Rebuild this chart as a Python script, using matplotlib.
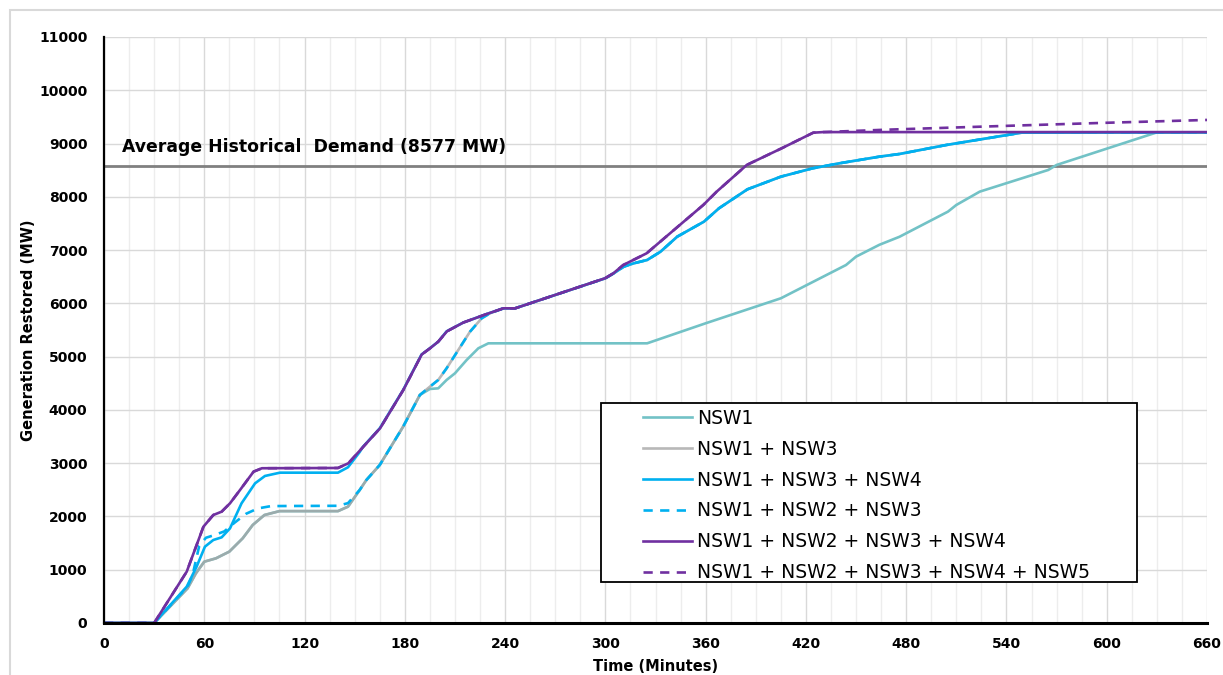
import matplotlib
matplotlib.use("Agg")
import matplotlib.pyplot as plt
from matplotlib.patches import Rectangle
from matplotlib.ticker import MultipleLocator

# ---------------- data ----------------
t_nsw1 = [0, 30, 50, 55, 60, 67, 75, 83, 89, 96, 105, 140, 146, 153, 157, 165,
          179, 189, 195, 200, 205, 210, 217, 224, 230, 325, 360, 405, 444, 450,
          464, 476, 505, 510, 524, 565, 570, 630, 660]
mw_nsw1 = [0, 0, 650, 933, 1151, 1214, 1340, 1590, 1840, 2027, 2100, 2100, 2184,
           2497, 2684, 2966, 3686, 4280, 4393, 4405, 4562, 4687, 4937, 5157, 5250,
           5250, 5626, 6095, 6720, 6877, 7100, 7250, 7722, 7847, 8097, 8504, 8598,
           9210, 9210]

t_nsw13 = [0, 30, 50, 55, 60, 67, 75, 83, 89, 96, 105, 140, 146, 153, 157, 165,
           179, 189, 195, 200, 205, 212, 219, 226, 231, 239, 246, 300, 305, 311,
           317, 325, 333, 343, 359, 368, 385, 405, 424, 440, 464, 476, 504, 549, 660]
mw_nsw13 = [0, 0, 650, 933, 1151, 1214, 1340, 1590, 1840, 2027, 2100, 2100, 2184,
            2497, 2684, 2966, 3686, 4280, 4436, 4562, 4781, 5125, 5468, 5720, 5814,
            5907, 5907, 6471, 6564, 6689, 6752, 6814, 6970, 7252, 7534, 7785, 8141,
            8378, 8535, 8629, 8754, 8804, 8973, 9204, 9210]

t_nsw134 = [0, 30, 49.5, 55.4, 60.4, 65.4, 70.4, 75.4, 82.3, 90.4, 96.3, 105.3,
            140, 146, 153, 155, 165, 179, 190, 195, 200, 205, 215, 229, 239, 246,
            300, 305, 311, 317, 325, 333, 343, 359, 368, 385, 405, 424, 440, 464,
            476, 504, 549, 660]
mw_nsw134 = [0, 0, 682, 1057, 1433, 1558, 1608, 1777, 2247, 2622, 2760, 2822,
             2822, 2923, 3210, 3310, 3655, 4374, 5040, 5157, 5281, 5475, 5640, 5800,
             5907, 5907, 6471, 6564, 6689, 6752, 6814, 6970, 7252, 7534, 7785, 8141,
             8378, 8535, 8629, 8754, 8804, 8973, 9204, 9210]

t_nsw123 = [0, 30, 50, 53, 57, 61, 66, 72, 78, 85, 92, 100, 140, 146, 153, 157,
            165, 179, 189, 195, 200, 205, 212, 219, 226, 231, 239, 246, 300, 305,
            311, 317, 325, 333, 343, 359, 368, 385, 405, 424, 440, 464, 476, 504,
            549, 660]
mw_nsw123 = [0, 0, 682, 900, 1450, 1600, 1650, 1720, 1880, 2050, 2150, 2195, 2200,
             2250, 2497, 2684, 2966, 3686, 4280, 4436, 4562, 4781, 5125, 5468, 5720,
             5814, 5907, 5907, 6471, 6564, 6689, 6752, 6814, 6970, 7252, 7534, 7785,
             8141, 8378, 8535, 8629, 8754, 8804, 8973, 9204, 9210]

t_nsw1234 = [0, 30, 49.5, 59.5, 65.4, 70.4, 75.4, 81.4, 89.5, 94.5, 140, 146.2,
             155.2, 165.2, 179.1, 190.1, 195.1, 200, 205.2, 215, 229, 239, 246,
             299.8, 304.8, 310.7, 324.7, 338.7, 358.6, 366.6, 384.6, 405.5, 424.4,
             430.4, 660]
mw_nsw1234 = [0, 0, 964, 1808, 2027, 2090, 2247, 2497, 2841, 2905, 2910, 2998,
              3310, 3655, 4374, 5040, 5157, 5281, 5475, 5640, 5800, 5907, 5907,
              6471, 6564, 6720, 6940, 7315, 7847, 8097, 8598, 8911, 9204, 9215, 9215]

t_nsw12345 = t_nsw1234[:-1] + [464, 476, 544, 600, 660]
mw_nsw12345 = mw_nsw1234[:-1] + [9255, 9268, 9336, 9390, 9443]

demand_mw = 8577
demand_label = "Average Historical  Demand (8577 MW)"

series_labels = ["NSW1", "NSW1 + NSW3", "NSW1 + NSW3 + NSW4", "NSW1 + NSW2 + NSW3",
                 "NSW1 + NSW2 + NSW3 + NSW4", "NSW1 + NSW2 + NSW3 + NSW4 + NSW5"]
x_ticks = list(range(0, 661, 60))
y_ticks = list(range(0, 11001, 1000))

# ---------------- drawing ----------------
plt.rcParams['font.family'] = ['DejaVu Sans']
W, H = 1223, 675
fig = plt.figure(figsize=(W / 100, H / 100), dpi=100)
fig.patch.set_facecolor('white')

# outer light border
fig.patches.append(Rectangle((10 / W, -0.2), 1.2, 1.2 - 10 / H, transform=fig.transFigure,
                             fill=False, edgecolor='#D9D9D9', linewidth=1.5, zorder=0))

ax = fig.add_axes([104 / W, 1 - 623 / H, 1103 / W, 586 / H])
ax.set_xlim(0, 660)
ax.set_ylim(0, 11000)

ax.xaxis.set_major_locator(MultipleLocator(60))
ax.xaxis.set_minor_locator(MultipleLocator(15))
ax.yaxis.set_major_locator(MultipleLocator(1000))
ax.grid(which='major', axis='both', color='#D9D9D9', linewidth=1.0, zorder=0)
ax.grid(which='minor', axis='x', color='#EDEDED', linewidth=1.0, zorder=0)
ax.set_axisbelow(True)

ax.set_xticks(x_ticks)
ax.set_yticks(y_ticks)
ax.set_xticklabels([str(v) for v in x_ticks], fontweight='bold', fontsize=10)
ax.set_yticklabels([str(v) for v in y_ticks], fontweight='bold', fontsize=10)
ax.tick_params(axis='both', which='both', length=0)
ax.tick_params(axis='y', pad=12)
ax.tick_params(axis='x', pad=10)

for s in ['top', 'right']:
    ax.spines[s].set_visible(False)
ax.spines['left'].set_color('black')
ax.spines['left'].set_linewidth(1.6)
ax.spines['bottom'].set_color('black')
ax.spines['bottom'].set_linewidth(2.2)
ax.spines['left'].set_zorder(5)
ax.spines['bottom'].set_zorder(5)

ax.axhline(demand_mw, color='#808080', linewidth=2.0, zorder=1)
ax.text(10.8, 8935, demand_label, fontsize=12.4, fontweight='bold', va='center', ha='left')

lw = 1.9
teal, grey, blue, purple = '#72C2C6', '#A6A6A6', '#00B0F0', '#7030A0'
dash = (3.5, 2.8)
h1, = ax.plot(t_nsw1, mw_nsw1, color=teal, lw=lw, zorder=2, label=series_labels[0])
h2, = ax.plot(t_nsw13, mw_nsw13, color=grey, lw=lw, zorder=2.1, alpha=0.8, label=series_labels[1])
h3, = ax.plot(t_nsw134, mw_nsw134, color=blue, lw=lw, zorder=2.2, label=series_labels[2])
h4, = ax.plot(t_nsw123, mw_nsw123, color=blue, lw=lw, ls=(0, dash), zorder=2.3, label=series_labels[3])
h6, = ax.plot(t_nsw12345, mw_nsw12345, color=purple, lw=lw, ls=(0, dash), zorder=2.4, label=series_labels[5])
h5, = ax.plot(t_nsw1234, mw_nsw1234, color=purple, lw=lw, zorder=2.5, label=series_labels[4])

ax.set_xlabel("Time (Minutes)", fontsize=10.5, fontweight='bold', labelpad=6)
ax.set_ylabel("Generation Restored (MW)", fontsize=10.5, fontweight='bold', labelpad=2)

# legend box
bx0, bx1, by0, by1 = 601, 1137, 403, 582
ax.add_patch(Rectangle(((bx0 - 104) / 1103, (623 - by1) / 586), (bx1 - bx0) / 1103,
                       (by1 - by0) / 586, transform=ax.transAxes, facecolor='white',
                       edgecolor='black', linewidth=1.3, zorder=6, clip_on=False))
leg = ax.legend(handles=[h1, h2, h3, h4, h5, h6], loc='upper left',
                bbox_to_anchor=(643 / W, 1 - 409 / H), bbox_transform=fig.transFigure,
                frameon=False, fontsize=13.5, handlelength=2.6, handletextpad=0.3,
                labelspacing=0.63, borderpad=0, borderaxespad=0)
leg.set_zorder(7)

fig.savefig("out.png", dpi=100)
